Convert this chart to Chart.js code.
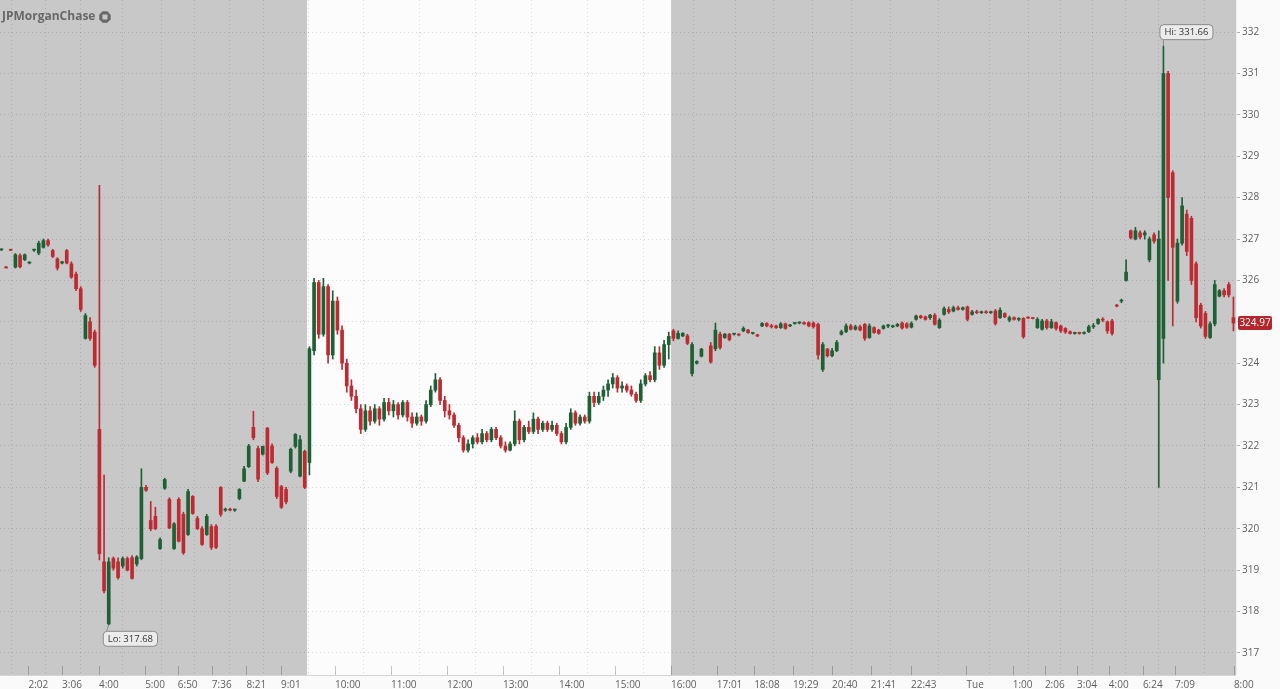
<!DOCTYPE html>
<html><head><meta charset="utf-8">
<script src="https://cdn.jsdelivr.net/npm/chart.js@4.4.1/dist/chart.umd.min.js"></script>
<style>html,body{margin:0;padding:0;background:#fafafa;overflow:hidden}#wrap{position:relative;width:1280px;height:689px}</style>
</head><body><div id="wrap"><canvas id="c" width="1280" height="689" style="width:1280px;height:689px"></canvas></div>
<script>
// ---- DATA (bar slot index = position on the compressed time axis) ----
const timeTickPos = [5.8,13.0,20.9,30.8,37.8,45.1,52.5,59.9,71.5,83.5,95.5,107.5,119.5,131.5,143.5,153.3,161.3,169.6,178.0,186.3,194.9,206.8,216.7,223.6,230.5,237.3,244.6,251.5,264.1];
const timeTickLabels = ['2:02','3:06','4:00','5:00','6:50','7:36','8:21','9:01','10:00','11:00','12:00','13:00','14:00','15:00','16:00','17:01','18:08','19:29','20:40','21:41','22:43','Tue','1:00','2:06','3:04','4:00','6:24','7:09','8:00'];
const priceTicks = [317,318,319,320,321,322,323,324,325,326,327,328,329,330,331,332];
const sessionOpen = 65.5, sessionClose = 143.5;   // regular session 9:30-16:00
const xMin = -0.3, xMax = 264.55, yMin = 316.467, yMax = 332.775;

// pre-market (slots 0-65)
const preOpen  = [326.74,326.32,326.74,326.32,326.60,326.50,326.42,326.73,326.66,326.80,326.96,326.72,326.52,326.42,326.72,326.40,326.15,325.80,324.60,325.00,324.75,322.40,319.20,317.70,319.28,319.20,319.10,319.28,319.30,319.15,319.28,321.00,320.20,320.30,319.52,320.98,320.71,319.52,320.71,320.35,319.86,320.78,320.25,320.00,319.86,320.05,320.06,321.00,320.45,320.47,320.45,320.73,321.15,321.50,322.45,321.94,321.80,322.43,322.00,321.46,321.02,320.95,321.39,321.99,321.27,321.87];
const preHigh  = [326.76,326.34,326.75,326.65,326.64,326.64,326.45,326.76,326.95,327.00,327.00,326.75,326.55,326.46,326.75,326.45,326.20,325.85,325.20,325.10,324.80,328.30,321.30,319.30,319.32,319.30,319.32,319.32,319.35,319.35,321.45,321.05,320.66,320.52,319.78,321.22,320.75,320.15,320.75,320.40,320.95,320.80,320.30,320.05,320.35,320.10,320.10,321.02,320.50,320.50,320.48,320.97,321.51,322.04,322.84,322.00,322.00,322.45,322.05,321.50,321.05,321.00,321.95,322.30,322.25,321.90];
const preLow   = [326.72,326.30,326.72,326.30,326.30,326.48,326.40,326.70,326.62,326.78,326.82,326.55,326.25,326.40,326.40,326.05,325.75,325.25,324.58,324.55,323.90,319.25,318.45,317.68,319.00,318.78,319.05,318.98,318.78,319.10,319.25,320.90,319.95,319.98,319.50,320.95,320.00,319.50,319.68,319.38,319.84,320.35,319.98,319.60,319.84,319.50,319.52,320.30,320.42,320.43,320.42,320.70,321.14,321.48,322.15,321.14,321.78,321.31,321.58,320.73,320.49,320.60,321.35,321.95,321.25,320.97];
const preClose = [326.74,326.30,326.73,326.62,326.33,326.62,326.42,326.75,326.90,326.96,326.86,326.58,326.30,326.45,326.42,326.08,325.80,325.30,325.15,324.60,323.95,319.40,318.50,319.20,319.05,318.82,319.28,319.00,318.80,319.32,321.00,320.93,320.00,320.00,319.74,321.19,320.02,320.12,319.70,319.42,320.90,320.37,320.00,319.62,320.30,319.55,319.55,320.35,320.47,320.45,320.46,320.95,321.45,322.00,322.20,321.20,321.99,321.35,321.60,320.78,320.52,320.65,321.92,322.28,322.15,321.00];

// regular session (slots 66-143)
const regOpen  = [321.60,324.30,325.95,324.70,325.85,324.20,325.50,324.80,324.00,323.45,323.20,322.90,322.40,322.85,322.60,322.90,322.65,323.05,322.85,323.00,322.75,323.05,322.70,322.55,322.70,322.60,323.00,323.35,323.60,323.10,322.85,322.75,322.50,322.20,321.90,322.05,322.20,322.10,322.30,322.15,322.40,322.20,322.00,321.90,322.05,322.60,322.15,322.45,322.35,322.65,322.40,322.55,322.40,322.50,322.30,322.10,322.45,322.80,322.55,322.70,322.60,323.20,323.05,323.20,323.35,323.50,323.65,323.40,323.45,323.35,323.25,323.10,323.50,323.70,323.60,324.25,323.95,324.45];
const regHigh  = [324.40,326.05,326.00,326.05,325.90,325.75,325.60,324.90,324.10,323.60,323.35,323.00,323.00,322.95,323.00,322.95,323.15,323.15,323.10,323.05,323.10,323.10,322.80,322.80,322.75,323.10,323.45,323.75,323.65,323.20,323.00,322.80,322.55,322.25,322.15,322.25,322.30,322.40,322.35,322.45,322.45,322.25,322.10,322.10,322.85,322.65,322.50,322.60,322.80,322.70,322.60,322.60,322.60,322.55,322.35,322.55,322.90,322.85,322.75,322.75,323.30,323.30,323.30,323.45,323.60,323.75,323.70,323.55,323.50,323.45,323.30,323.60,323.75,323.80,324.40,324.40,324.55,324.75];
const regLow   = [321.30,324.20,324.60,324.65,324.00,324.10,324.70,323.85,323.30,323.10,322.80,322.30,322.35,322.50,322.55,322.50,322.60,322.75,322.70,322.65,322.70,322.60,322.45,322.50,322.50,322.55,322.95,323.30,323.00,322.70,322.65,322.45,322.10,321.85,321.85,321.95,322.05,322.05,322.10,322.10,322.15,321.95,321.85,321.88,322.00,322.05,322.10,322.30,322.30,322.30,322.35,322.35,322.35,322.25,322.05,322.05,322.40,322.50,322.50,322.55,322.55,322.95,323.00,323.10,323.20,323.40,323.30,323.30,323.30,323.20,323.05,323.05,323.45,323.55,323.55,323.85,323.90,324.10];
const regClose = [324.35,325.95,324.70,325.85,324.20,325.50,324.80,324.00,323.45,323.20,322.90,322.40,322.85,322.60,322.90,322.65,323.05,322.85,323.00,322.75,323.05,322.70,322.55,322.70,322.60,323.00,323.35,323.60,323.10,322.85,322.75,322.50,322.20,321.90,322.05,322.20,322.10,322.30,322.15,322.40,322.20,322.00,321.90,322.05,322.60,322.15,322.45,322.35,322.65,322.40,322.55,322.40,322.50,322.30,322.10,322.45,322.80,322.55,322.70,322.60,323.20,323.05,323.20,323.35,323.50,323.65,323.40,323.45,323.35,323.25,323.10,323.50,323.70,323.60,324.25,323.95,324.45,324.65];

// after hours / overnight (slots 144-264), null = no trade
const postOpen  = [324.78,324.60,324.66,324.66,323.75,324.00,324.17,null,324.42,324.35,324.70,324.62,324.70,324.70,324.69,324.78,324.80,324.72,324.68,324.90,324.96,324.90,324.90,324.86,324.95,324.90,324.96,324.97,324.98,324.98,324.97,324.94,323.85,324.34,324.18,324.30,324.70,324.76,324.90,324.82,324.88,324.94,324.62,324.86,324.80,324.84,324.90,324.88,324.90,324.97,324.95,324.87,325.06,325.14,325.12,325.10,325.16,324.86,325.18,325.30,325.26,325.34,325.30,325.36,325.18,325.24,325.22,325.24,325.22,325.26,325.10,325.20,325.04,325.10,325.06,325.08,325.10,325.09,324.86,324.82,325.02,324.86,324.98,324.90,324.84,324.76,324.72,324.73,324.72,324.76,324.88,324.96,325.06,325.00,325.02,325.40,325.50,326.00,327.20,327.00,327.15,327.10,326.50,327.10,323.60,324.60,331.00,328.60,325.50,326.90,327.60,327.50,326.40,325.40,325.20,324.62,324.95,325.62,325.75,325.90,325.10];
const postHigh  = [324.82,324.78,324.74,324.70,324.50,324.06,324.36,null,324.50,324.97,324.75,324.72,324.72,324.72,324.71,324.88,324.82,324.74,324.70,324.98,324.98,324.94,324.92,324.98,324.97,324.94,324.98,325.00,325.00,325.00,325.00,324.97,324.50,324.36,324.36,324.55,324.80,324.95,324.94,324.92,324.92,324.96,324.95,324.88,324.82,324.92,324.94,324.92,324.96,325.00,324.98,325.00,325.16,325.16,325.14,325.18,325.20,325.08,325.36,325.36,325.38,325.38,325.36,325.38,325.28,325.28,325.26,325.27,325.26,325.30,325.34,325.22,325.14,325.12,325.10,325.10,325.12,325.10,325.10,325.06,325.06,325.06,325.00,324.92,324.86,324.78,324.75,324.75,324.76,324.92,324.96,325.08,325.10,325.02,325.06,325.42,325.55,326.50,327.22,327.28,327.20,327.20,327.05,327.15,327.20,331.66,331.05,328.65,327.00,328.00,327.70,327.55,326.45,325.45,325.25,325.00,326.00,325.78,325.80,325.95,325.60];
const postLow   = [324.54,324.58,324.64,324.45,323.69,323.98,324.15,null,324.00,324.30,324.34,324.60,324.54,324.68,324.66,324.76,324.72,324.70,324.64,324.88,324.88,324.85,324.84,324.84,324.82,324.88,324.94,324.95,324.94,324.88,324.85,324.10,323.80,324.15,324.15,324.28,324.68,324.74,324.80,324.80,324.78,324.55,324.60,324.72,324.70,324.82,324.86,324.86,324.88,324.82,324.84,324.85,325.04,325.08,325.04,325.06,324.92,324.84,325.16,325.20,325.24,325.28,325.28,325.02,325.16,325.20,325.20,325.20,325.20,324.92,325.08,325.10,325.00,325.04,325.02,324.60,325.08,325.07,324.84,324.80,324.82,324.84,324.80,324.74,324.72,324.70,324.70,324.70,324.70,324.74,324.84,324.94,325.00,324.72,324.68,325.36,325.46,325.98,327.00,326.98,327.00,327.00,326.45,326.90,321.00,324.00,326.00,324.90,325.45,326.85,326.60,325.90,325.00,324.85,324.60,324.60,324.90,325.60,325.60,325.60,324.78];
const postClose = [324.60,324.72,324.72,324.48,324.45,324.04,324.34,null,324.03,324.80,324.38,324.70,324.57,324.70,324.68,324.84,324.74,324.72,324.66,324.96,324.90,324.88,324.86,324.95,324.84,324.92,324.97,324.98,324.95,324.90,324.88,324.20,324.45,324.18,324.30,324.50,324.76,324.90,324.82,324.88,324.80,324.60,324.90,324.74,324.72,324.90,324.90,324.90,324.94,324.85,324.87,324.96,325.14,325.10,325.06,325.16,324.94,325.04,325.32,325.24,325.34,325.30,325.34,325.06,325.24,325.22,325.24,325.22,325.23,324.96,325.28,325.12,325.10,325.06,325.08,324.64,325.09,325.08,325.06,325.02,324.86,325.00,324.84,324.78,324.75,324.72,324.73,324.72,324.74,324.88,324.90,325.06,325.04,324.78,324.72,325.38,325.52,326.20,327.03,327.20,327.05,327.15,327.00,326.95,327.00,331.00,328.00,326.80,326.90,327.80,326.70,326.00,325.10,324.90,324.65,324.95,325.90,325.75,325.65,325.65,324.97];

const opens  = preOpen.concat(regOpen, postOpen);
const highs  = preHigh.concat(regHigh, postHigh);
const lows   = preLow.concat(regLow, postLow);
const closes = preClose.concat(regClose, postClose);

// ---- build datasets ----
const RED = '#bd2a31', GREEN = '#1e5f34';
const wickData = [], bodyData = [], colors = [];
for (let i = 0; i < opens.length; i++) {
  if (opens[i] == null) continue;
  wickData.push({x: i, y: [lows[i], highs[i]]});
  bodyData.push({x: i, y: [opens[i], closes[i]]});
  colors.push(closes[i] >= opens[i] ? GREEN : RED);
}
let hiIdx = 0, loIdx = 0, lastIdx = 0;
for (let i = 0; i < highs.length; i++) {
  if (highs[i] == null) continue;
  if (highs[i] > highs[hiIdx]) hiIdx = i;
  if (lows[i] < lows[loIdx]) loIdx = i;
  lastIdx = i;
}

function roundRect(ctx, x, y, w, h, r) {
  ctx.beginPath();
  ctx.moveTo(x + r, y); ctx.lineTo(x + w - r, y); ctx.quadraticCurveTo(x + w, y, x + w, y + r);
  ctx.lineTo(x + w, y + h - r); ctx.quadraticCurveTo(x + w, y + h, x + w - r, y + h);
  ctx.lineTo(x + r, y + h); ctx.quadraticCurveTo(x, y + h, x, y + h - r);
  ctx.lineTo(x, y + r); ctx.quadraticCurveTo(x, y, x + r, y); ctx.closePath();
}

const bgPlugin = {
  id: 'bg',
  beforeDraw(chart) {
    const {ctx, chartArea: a, scales: {x}} = chart;
    ctx.save();
    ctx.fillStyle = '#fafafa'; ctx.fillRect(0, 0, chart.width, chart.height);
    ctx.fillStyle = '#c8c8c8'; ctx.fillRect(a.left, a.top, a.width, a.height);
    const x0 = x.getPixelForValue(sessionOpen), x1 = x.getPixelForValue(sessionClose);
    ctx.fillStyle = '#fcfcfc'; ctx.fillRect(x0, a.top, x1 - x0, a.height);
    ctx.restore();
  }
};

const overlayPlugin = {
  id: 'overlay',
  afterDatasetsDraw(chart) {
    const {ctx, chartArea: a, scales: {x, y}} = chart;
    ctx.save();
    // bottom tick marks
    ctx.strokeStyle = 'rgba(0,0,0,0.22)'; ctx.lineWidth = 1;
    timeTickPos.forEach(v => {
      const px = Math.round(x.getPixelForValue(v)) + 0.5;
      ctx.beginPath(); ctx.moveTo(px, a.bottom - 9); ctx.lineTo(px, a.bottom); ctx.stroke();
    });
    ctx.strokeStyle = '#d4d4d4';
    ctx.beginPath(); ctx.moveTo(a.left, a.bottom + 0.5); ctx.lineTo(a.right, a.bottom + 0.5); ctx.stroke();
    ctx.strokeStyle = '#eeeeee';
    ctx.beginPath(); ctx.moveTo(a.right + 0.5, a.top); ctx.lineTo(a.right + 0.5, a.bottom); ctx.stroke();

    // logo
    ctx.fillStyle = '#686868'; ctx.textBaseline = 'middle'; ctx.textAlign = 'left';
    ctx.font = 'bold 12px "Open Sans", sans-serif';
    ctx.fillText('JPMorganChase', 2, 17);
    const tw = ctx.measureText('JPMorganChase').width;
    const cx = 2 + tw + 9.5, cy = 17, R = 6.2;
    ctx.beginPath();
    for (let k = 0; k < 8; k++) {
      const ang = Math.PI / 8 + k * Math.PI / 4;
      const px = cx + R * Math.cos(ang), py = cy + R * Math.sin(ang);
      k ? ctx.lineTo(px, py) : ctx.moveTo(px, py);
    }
    ctx.closePath(); ctx.fill();
    ctx.fillStyle = '#c8c8c8'; ctx.fillRect(cx - 2.5, cy - 2.5, 5, 5);

    // Hi / Lo flags
    ctx.font = '9.5px "Open Sans", sans-serif';
    const flag = (text, px, py, bx, by) => {
      const w = ctx.measureText(text).width + 9, h = 15;
      ctx.strokeStyle = '#8a8a8a'; ctx.lineWidth = 1;
      ctx.beginPath(); ctx.moveTo(px, py); ctx.lineTo(bx + 4, by < py ? by + h : by); ctx.stroke();
      roundRect(ctx, bx + 0.5, by + 0.5, w, h, 4);
      ctx.fillStyle = '#ececec'; ctx.fill(); ctx.stroke();
      ctx.fillStyle = '#333'; ctx.textBaseline = 'middle';
      ctx.fillText(text, bx + 5, by + h / 2 + 1);
    };
    const hx = x.getPixelForValue(hiIdx), hy = y.getPixelForValue(highs[hiIdx]);
    flag('Hi: ' + highs[hiIdx].toFixed(2), hx, hy, hx - 4, hy - 22);
    const lx = x.getPixelForValue(loIdx), ly = y.getPixelForValue(lows[loIdx]);
    flag('Lo: ' + lows[loIdx].toFixed(2), lx, ly, lx - 6, ly + 6);

    // last price tag
    const py = y.getPixelForValue(closes[lastIdx]);
    roundRect(ctx, a.right + 2, Math.round(py) - 7, 34, 14, 2);
    ctx.fillStyle = '#b3262d'; ctx.fill();
    ctx.fillStyle = '#ffffff'; ctx.textAlign = 'center'; ctx.font = '10px "Open Sans", sans-serif';
    ctx.fillText(closes[lastIdx].toFixed(2), a.right + 19, Math.round(py) + 0.5);
    ctx.restore();
  }
};

new Chart(document.getElementById('c'), {
  type: 'bar',
  data: {
    datasets: [
      {label: 'range', data: wickData, backgroundColor: colors, barThickness: 1, grouped: false, order: 2, borderWidth: 0},
      {label: 'body', data: bodyData, backgroundColor: colors, barThickness: 3, grouped: false, order: 1, borderWidth: 0, minBarLength: 1}
    ]
  },
  options: {
    responsive: false, animation: false, maintainAspectRatio: false,
    layout: {padding: 0},
    plugins: {legend: {display: false}, tooltip: {enabled: false}, title: {display: false}},
    scales: {
      x: {
        type: 'linear', min: xMin, max: xMax, offset: false,
        afterBuildTicks: s => { s.ticks = timeTickPos.map(v => ({value: v})); },
        afterFit: s => { s.height = 14; s.paddingLeft = 0; s.paddingRight = 0; s.paddingTop = 0; s.paddingBottom = 0; },
        ticks: {
          autoSkip: false, maxRotation: 0, minRotation: 0, align: 'start', padding: 4,
          color: '#5f5f5f', font: {family: '"Open Sans", sans-serif', size: 10},
          callback: (v, i) => timeTickLabels[i]
        },
        grid: {color: 'rgba(0,0,0,0.13)', drawTicks: false, lineWidth: 1},
        border: {display: false, dash: [1, 3]}
      },
      y: {
        type: 'linear', position: 'right', min: yMin, max: yMax,
        afterBuildTicks: s => { s.ticks = priceTicks.map(v => ({value: v})); },
        afterFit: s => { s.width = 44; s.paddingTop = 0; s.paddingBottom = 0; s.paddingLeft = 0; s.paddingRight = 0; },
        ticks: {color: '#5f5f5f', padding: 2, font: {family: '"Open Sans", sans-serif', size: 10}},
        grid: {color: 'rgba(0,0,0,0.13)', drawTicks: true, tickLength: 4, tickColor: '#b0b0b0', lineWidth: 1},
        border: {display: false, dash: [1, 3]}
      }
    }
  },
  plugins: [bgPlugin, overlayPlugin]
});
</script></body></html>
